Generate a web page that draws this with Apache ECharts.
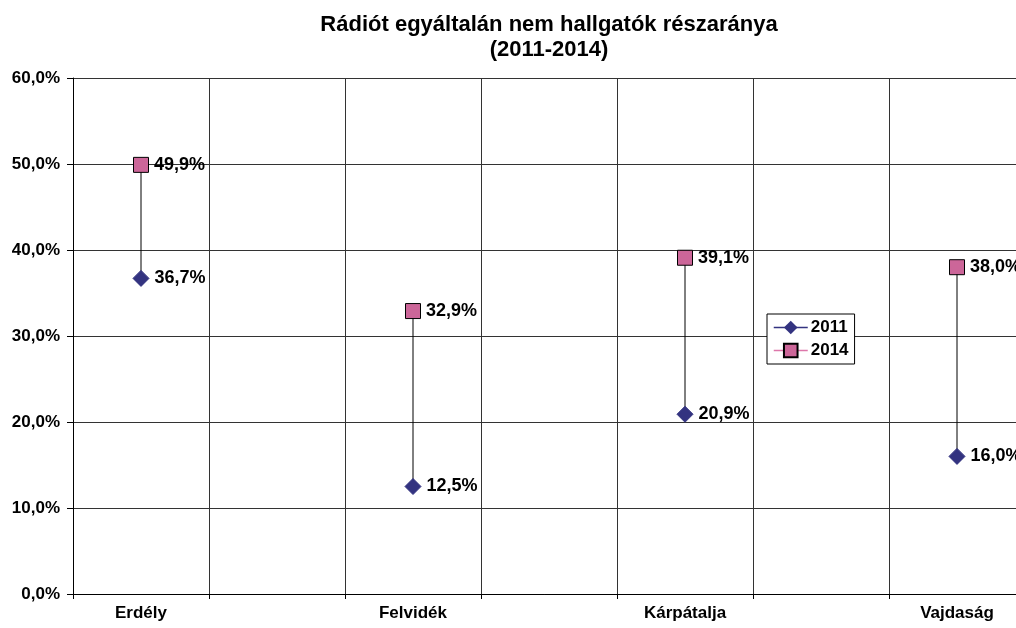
<!DOCTYPE html>
<html>
<head>
<meta charset="utf-8">
<script src="https://cdn.jsdelivr.net/npm/echarts@6/dist/echarts.min.js"></script>
<style>
  html, body { margin: 0; padding: 0; background: #fff; }
  #main { width: 1016px; height: 628px; }
</style>
</head>
<body>
<div id="main"></div>
<script>
// categories: every region is followed by an empty slot, as in the original
var categories = ['Erdély', '', 'Felvidék', '', 'Kárpátalja', '', 'Vajdaság'];
var values2011 = [36.7, null, 12.5, null, 20.9, null, 16.0];
var values2014 = [49.9, null, 32.9, null, 39.1, null, 38.0];
var yTicks = [0, 10, 20, 30, 40, 50, 60];

var font = 'Arial, "Liberation Sans", sans-serif';
function pct(v) {
  return v.toFixed(1).replace('.', ',') + '%';
}

var chartDom = document.getElementById('main');
var myChart = echarts.init(chartDom);

// high-low lines between the two years
var hiLo = [];
categories.forEach(function (c, i) {
  if (values2011[i] != null && values2014[i] != null) {
    hiLo.push([i, values2011[i], values2014[i]]);
  }
});

var option = {
  animation: false,
  backgroundColor: '#fff',
  textStyle: { fontFamily: font },
  title: {
    text: 'Rádiót egyáltalán nem hallgatók részaránya\n(2011-2014)',
    left: 544,
    top: 7,
    textAlign: 'center',
    textStyle: { fontSize: 22, fontWeight: 'bold', color: '#000', lineHeight: 25, fontFamily: font }
  },
  legend: {
    orient: 'vertical',
    left: 767,
    top: 314,
    padding: [5, 6, 5, 6],
    itemGap: 6,
    itemWidth: 34,
    itemHeight: 17,
    borderColor: '#000',
    borderWidth: 1,
    backgroundColor: '#fff',
    textStyle: { fontSize: 17, fontWeight: 'bold', color: '#000', fontFamily: font, padding: [0, 0, 0, -2] },
    data: [
      { name: '2011', lineStyle: { width: 1.5, color: '#333380', opacity: 1 } },
      { name: '2014', lineStyle: { width: 1.5, color: '#dd77aa', opacity: 1 } }
    ]
  },
  grid: { left: 73, top: 78, width: 952, bottom: 34, outerBoundsMode: 'none' },
  xAxis: {
    type: 'category',
    data: categories,
    boundaryGap: true,
    axisLine: { lineStyle: { color: '#000', width: 1 } },
    axisTick: { show: true, interval: 0, length: 5, lineStyle: { color: '#000' } },
    axisLabel: { interval: 0, margin: 11, fontSize: 17, fontWeight: 'bold', color: '#000', fontFamily: font },
    splitLine: { show: true, interval: 0, lineStyle: { color: '#333', width: 1 } }
  },
  yAxis: {
    type: 'value',
    min: yTicks[0],
    max: yTicks[yTicks.length - 1],
    interval: 10,
    axisLine: { show: true, lineStyle: { color: '#000', width: 1 } },
    axisTick: { show: true, length: 6, lineStyle: { color: '#000' } },
    axisLabel: { formatter: pct, margin: 13, fontSize: 17, fontWeight: 'bold', color: '#000', fontFamily: font },
    splitLine: { show: true, lineStyle: { color: '#333', width: 1 } }
  },
  series: [
    {
      type: 'custom',
      name: 'hilo',
      data: hiLo,
      z: 1,
      silent: true,
      renderItem: function (params, api) {
        var p1 = api.coord([api.value(0), api.value(1)]);
        var p2 = api.coord([api.value(0), api.value(2)]);
        return {
          type: 'line',
          shape: { x1: p1[0], y1: p1[1], x2: p2[0], y2: p2[1] },
          style: { stroke: '#000', lineWidth: 1 }
        };
      }
    },
    {
      name: '2011',
      type: 'line',
      data: values2011,
      z: 3,
      symbol: 'diamond',
      symbolSize: 16,
      lineStyle: { width: 0, opacity: 0 },
      itemStyle: { color: '#333380', borderColor: '#333380' },
      label: {
        show: true,
        position: 'right',
        distance: 5,
        formatter: function (p) { return pct(p.value); },
        fontSize: 18, fontWeight: 'bold', color: '#000', fontFamily: font
      }
    },
    {
      name: '2014',
      type: 'line',
      data: values2014,
      z: 3,
      symbol: 'rect',
      symbolSize: 15,
      lineStyle: { width: 0, opacity: 0 },
      itemStyle: { color: '#cc6699', borderColor: '#000', borderWidth: 1 },
      label: {
        show: true,
        position: 'right',
        distance: 5,
        formatter: function (p) { return pct(p.value); },
        fontSize: 18, fontWeight: 'bold', color: '#000', fontFamily: font
      }
    }
  ]
};

option && myChart.setOption(option);
</script>
</body>
</html>
